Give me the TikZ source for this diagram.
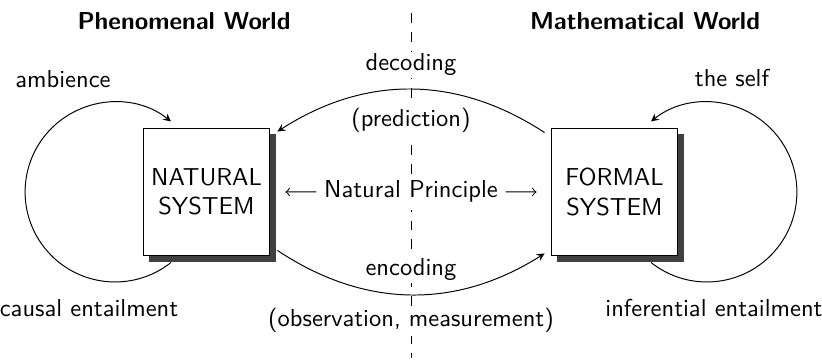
\documentclass[tikz,border=0pt]{standalone}
\usetikzlibrary{shadows,calc}
\begin{document}
\begin{tikzpicture}[x=0.408pt,y=0.408pt,font=\sffamily,
  sysbox/.style={draw,fill=white,minimum width=51.8pt,minimum height=52.2pt,
    align=center,inner sep=0pt,
    drop shadow={shadow xshift=2.4pt,shadow yshift=-2.4pt,fill=black!75,opacity=1}},
  lbl/.style={fill=white,inner sep=1pt,anchor=base},
  ent/.style={anchor=base}]
\useasboundingbox (0,0) rectangle (822,361);

% border between the two worlds
\draw[dash pattern=on 4pt off 3.7pt] (411,348) -- (411,3);

\node[ent,font=\sffamily\bfseries] (phen) at (184,331) {Phenomenal World};
\node[ent,font=\sffamily\bfseries] (math) at (645,331) {Mathematical World};

\node[sysbox] (nat) at (206.5,169) {NATURAL\\SYSTEM};
\node[sysbox] (form) at (614.5,169) {FORMAL\\SYSTEM};

% self loops
\draw[-stealth] ($(nat.center)+(-35.5,-70.5)$) arc[start angle=-51.6,end angle=-308.4,radius=90];
\draw[-stealth] ($(form.center)+(36.5,-70.5)$) arc[start angle=231.6,end angle=488.4,radius=90];
\node[ent] (amb) at (63,273) {ambience};
\node[ent] (self) at (732,274) {the self};
\node[ent] (caus) at (89,44) {causal entailment};
\node[ent] (infer) at (714,44) {inferential entailment};

% decoding and encoding
\coordinate (decS) at ($(form.north west)+(-6,-5)$);
\coordinate (decE) at ($(nat.north east)+(7,-4)$);
\coordinate (encS) at ($(nat.south east)+(7,6)$);
\coordinate (encE) at ($(form.south west)+(-6,3)$);
\draw[-stealth] (decS) to[bend right=33] (decE);
\draw[-stealth] (encS) to[bend right=33] (encE);

\node[lbl] (dec) at (411,290) {decoding};
\node[lbl] (pred) at (411,234) {(prediction)};
\node[lbl] (enc) at (411,85) {encoding};
\node[lbl] (obs) at (411,34) {(observation, measurement)};

\node[lbl,inner sep=3pt] (np) at (411,163) {Natural Principle};
\coordinate (npL) at ($(nat.east)+(15,0)$);
\coordinate (npR) at ($(form.west)+(-14,0)$);
\draw[->] (np.west) -- (npL);
\draw[->] (np.east) -- (npR);
\end{tikzpicture}
\end{document}
